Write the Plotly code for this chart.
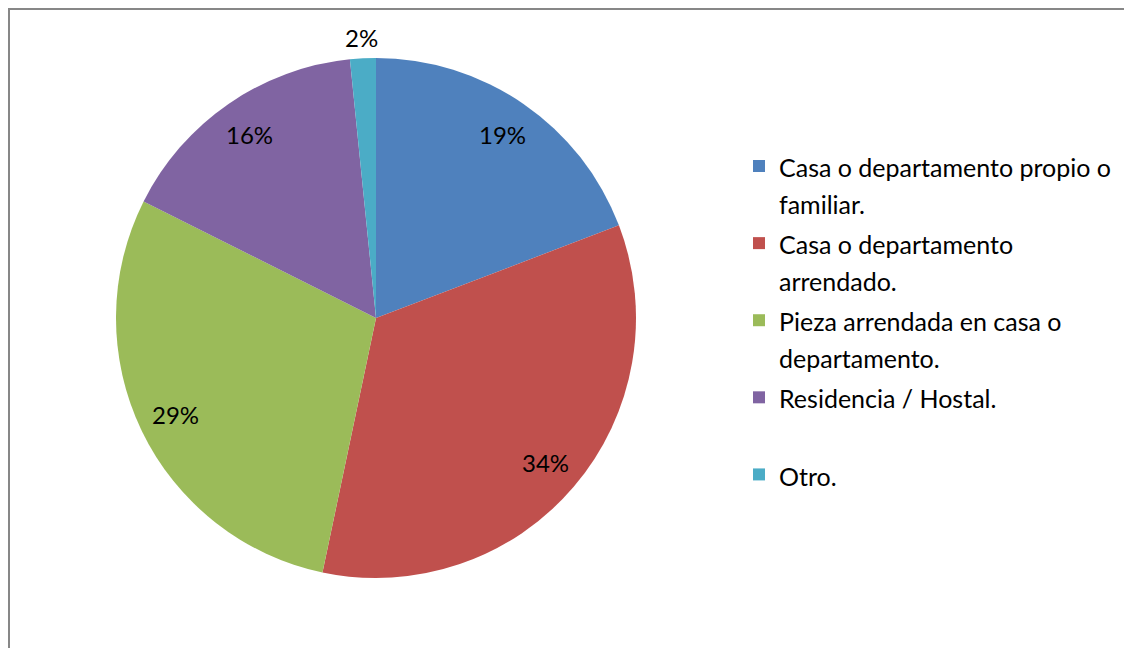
"""Pie chart: tipo de vivienda."""

import math

import plotly.graph_objects as go

# Data
CATEGORIES = [
    ["Casa o departamento propio o", "familiar."],
    ["Casa o departamento", "arrendado."],
    ["Pieza arrendada en casa o", "departamento."],
    ["Residencia / Hostal.", "\u00a0"],
    ["Otro."],
]
VALUES = [19.2, 34.1, 29.1, 16.0, 1.6]
COLORS = ["#4F81BD", "#C0504D", "#9BBB59", "#8064A2", "#4BACC6"]

# Layout constants (pixels, figure space; page body adds 8px margin)
W, H = 1116, 640
CX, CY, R = 368, 310, 260
FONT = "Lato, 'Open Sans', sans-serif"
TEXT_SIZE = 25
BORDER = dict(color="#878787", width=2)


def _legend_name(lines):
    """Legend text, each line sized explicitly so line pitch comes from legend font."""
    return "<br>".join(f'<span style="font-size:{TEXT_SIZE}px">{ln}</span>' for ln in lines)


def _label_annotations(values):
    """Place percentage labels Excel-style (inside, or outside for tiny slices)."""
    total = sum(values)
    annots = []
    cum = 0.0
    for v in values:
        frac = v / total
        theta = 2 * math.pi * (cum + frac / 2)
        cum += frac
        f = 0.855 if frac > 0.05 else 1.08
        x_px = CX + f * R * math.sin(theta)
        y_px = CY - f * R * math.cos(theta)
        annots.append(
            dict(
                x=x_px / W,
                y=1 - y_px / H,
                xref="paper",
                yref="paper",
                xanchor="center",
                yanchor="middle",
                text=f"{round(frac * 100)}%",
                showarrow=False,
                font=dict(family=FONT, size=24, color="#000000"),
            )
        )
    return annots


fig = go.Figure()
fig.add_trace(
    go.Pie(
        labels=[_legend_name(c) for c in CATEGORIES],
        values=VALUES,
        sort=False,
        direction="clockwise",
        rotation=0,
        marker=dict(colors=COLORS, line=dict(width=0)),
        textinfo="none",
        hoverinfo="percent",
        domain=dict(x=[(CX - R) / W, (CX + R) / W], y=[1 - (CY + R) / H, 1 - (CY - R) / H]),
    )
)

# chart border: only top and left edges are inside the picture
fig.add_shape(type="line", xref="paper", yref="paper",
              x0=0, x1=1, y0=1 - 1 / H, y1=1 - 1 / H, line=BORDER)
fig.add_shape(type="line", xref="paper", yref="paper",
              x0=1 / W, x1=1 / W, y0=0, y1=1, line=BORDER)

fig.update_layout(
    width=W,
    height=H,
    margin=dict(l=0, r=0, t=0, b=0, autoexpand=False),
    paper_bgcolor="white",
    plot_bgcolor="white",
    showlegend=True,
    legend=dict(
        x=731 / W,
        y=1 - 133 / H,
        xanchor="left",
        yanchor="top",
        valign="top",
        font=dict(family=FONT, size=28.5, color="#000000"),
        bgcolor="rgba(0,0,0,0)",
        bordercolor="rgba(0,0,0,0)",
        borderwidth=0,
    ),
    annotations=_label_annotations(VALUES),
)

fig.write_html("out.html")
